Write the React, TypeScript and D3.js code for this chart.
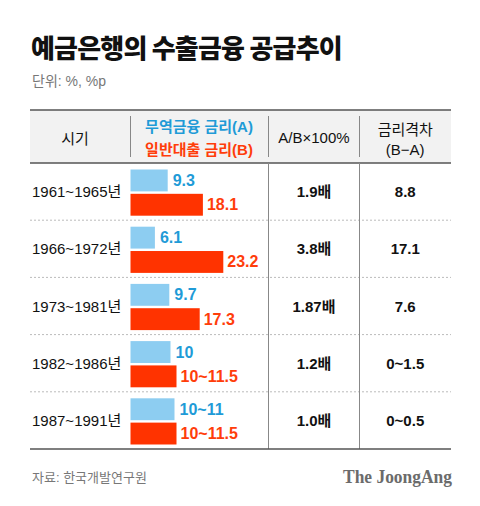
import React from "react";
import * as d3 from "d3";

const periods = ["1961~1965년", "1966~1972년", "1973~1981년", "1982~1986년", "1987~1991년"];
const tradeRate = [9.3, 6.1, 9.7, 10, 11];
const tradeLabel = ["9.3", "6.1", "9.7", "10", "10~11"];
const loanRate = [18.1, 23.2, 17.3, 11.5, 11.5];
const loanLabel = ["18.1", "23.2", "17.3", "10~11.5", "10~11.5"];
const ratioLabel = ["1.9배", "3.8배", "1.87배", "1.2배", "1.0배"];
const gapLabel = ["8.8", "17.1", "7.6", "0~1.5", "0~0.5"];

const W = 480;
const H = 506;
const KR = "'Noto Sans CJK KR', 'Noto Sans', sans-serif";
const MIX = "'Liberation Sans', 'Noto Sans CJK KR', sans-serif";
const BLUE_BAR = "#8dcdf1";
const RED_BAR = "#ff3300";
const BLUE_TXT = "#1f9bd7";
const RED_TXT = "#ff3d0a";

export default function App() {
  const left = 30;
  const right = 451;
  const tableTop = 110;
  const headBottom = 163;
  const tableBottom = 449;
  const col1 = 130.5;
  const col2 = 268.5;
  const col3 = 359.5;

  const y = d3.scaleBand<string>().domain(periods).range([headBottom, tableBottom]).padding(0);
  const inner = d3
    .scaleBand<string>()
    .domain(["A", "B"])
    .range([6.5, y.bandwidth() - 4.5])
    .paddingInner(0.1);
  const x = d3.scaleLinear().domain([0, 25]).range([col1, col1 + 100]);

  const c2 = (col2 + col3) / 2;
  const c3 = (col3 + right) / 2;

  return (
    <svg width={W} height={H} style={{ position: "absolute", left: 0, top: 0, background: "#fff" }}>
      <rect x={0} y={0} width={W} height={H} fill="#fff" />
      <text x={31} y={46} dominantBaseline="central" fontFamily={KR} fontWeight={900} fontSize={26} letterSpacing={-0.8} fill="#111">
        예금은행의 수출금융 공급추이
      </text>
      <text x={32} y={81} dominantBaseline="central" fontFamily={MIX} fontSize={14} fill="#777">
        단위: %, %p
      </text>

      {/* header */}
      <rect x={left} y={tableTop} width={right - left} height={headBottom - tableTop} fill="#f2f2f2" />
      <line x1={left} x2={right} y1={tableTop} y2={tableTop} stroke="#555" strokeWidth={1.5} />
      <line x1={left} x2={right} y1={headBottom} y2={headBottom} stroke="#555" strokeWidth={1.5} />
      {[col1, col2, col3].map((cx, i) => (
        <line key={i} x1={cx} x2={cx} y1={116} y2={157} stroke="#888" strokeWidth={1} />
      ))}
      <text x={75} y={137} textAnchor="middle" dominantBaseline="central" fontFamily={KR} fontSize={15} fill="#111">
        시기
      </text>
      <text x={199} y={126} textAnchor="middle" dominantBaseline="central" fontFamily={MIX} fontWeight={700} fontSize={15} fill={BLUE_TXT}>
        무역금융 금리(A)
      </text>
      <text x={199} y={149} textAnchor="middle" dominantBaseline="central" fontFamily={MIX} fontWeight={700} fontSize={15} fill={RED_TXT}>
        일반대출 금리(B)
      </text>
      <text x={c2} y={137} textAnchor="middle" dominantBaseline="central" fontFamily={MIX} fontSize={15} fill="#111">
        A/B×100%
      </text>
      <text x={c3} y={129} textAnchor="middle" dominantBaseline="central" fontFamily={MIX} fontSize={15} fill="#111">
        금리격차
      </text>
      <text x={c3} y={149} textAnchor="middle" dominantBaseline="central" fontFamily={MIX} fontSize={15} fill="#111">
        (B−A)
      </text>

      {/* body separators */}
      {periods.slice(1).map((p) => (
        <line key={p} x1={left} x2={right} y1={y(p)!} y2={y(p)!} stroke="#bbb" strokeWidth={1} strokeDasharray="2,2" />
      ))}
      {[col2, col3].map((cx, i) => (
        <line key={i} x1={cx} x2={cx} y1={headBottom} y2={tableBottom} stroke="#888" strokeWidth={1} />
      ))}
      <line x1={left} x2={right} y1={tableBottom} y2={tableBottom} stroke="#555" strokeWidth={1.5} />

      {periods.map((p, i) => {
        const r0 = y(p)!;
        const ya = r0 + inner("A")!;
        const yb = r0 + inner("B")!;
        const bh = inner.bandwidth();
        const cy = r0 + y.bandwidth() / 2;
        return (
          <g key={p}>
            <text x={32} y={cy} dominantBaseline="central" fontFamily={MIX} fontSize={15} fill="#111">
              {p}
            </text>
            <rect x={x(0)} y={ya} width={x(tradeRate[i]) - x(0)} height={bh} fill={BLUE_BAR} />
            <rect x={x(0)} y={yb} width={x(loanRate[i]) - x(0)} height={bh} fill={RED_BAR} />
            <text x={x(tradeRate[i]) + 5} y={ya + bh / 2} dominantBaseline="central" fontFamily={MIX} fontWeight={700} fontSize={16} fill={BLUE_TXT}>
              {tradeLabel[i]}
            </text>
            <text x={x(loanRate[i]) + 4} y={yb + bh / 2} dominantBaseline="central" fontFamily={MIX} fontWeight={700} fontSize={16} fill={RED_TXT}>
              {loanLabel[i]}
            </text>
            <text x={c2} y={cy} textAnchor="middle" dominantBaseline="central" fontFamily={MIX} fontWeight={700} fontSize={15} fill="#111">
              {ratioLabel[i]}
            </text>
            <text x={c3} y={cy} textAnchor="middle" dominantBaseline="central" fontFamily={MIX} fontWeight={700} fontSize={15} fill="#111">
              {gapLabel[i]}
            </text>
          </g>
        );
      })}

      <text x={32} y={477} dominantBaseline="central" fontFamily={MIX} fontSize={13} fill="#777">
        자료: 한국개발연구원
      </text>
      <text x={452} y={483} textAnchor="end" fontFamily="'Liberation Serif', 'DejaVu Serif', serif" fontWeight={700} fontSize={19} fill="#6b6b6b" textLength={109} lengthAdjust="spacingAndGlyphs">
        The JoongAng
      </text>
    </svg>
  );
}
